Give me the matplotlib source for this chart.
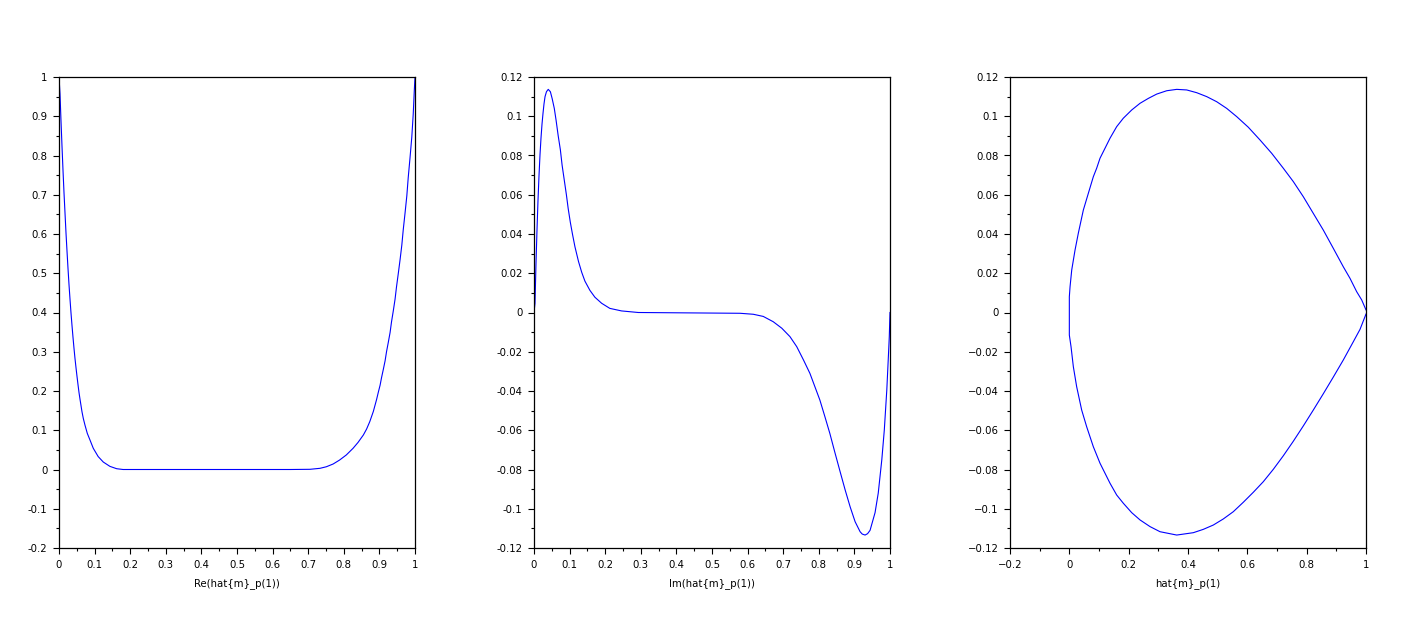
import matplotlib
matplotlib.use("Agg")
import matplotlib.pyplot as plt
from matplotlib.ticker import MultipleLocator

# ---------------------------------------------------------------------------
# Data
# ---------------------------------------------------------------------------

# panel 1: Re(hat{m}_p) against the parameter
t_re = [0.0, 0.0028, 0.0056, 0.0084, 0.0112, 0.0140, 0.0169, 0.0197, 0.0225,
        0.0253, 0.0281, 0.0309, 0.0337, 0.0365, 0.0393, 0.0421, 0.0449, 0.0478,
        0.0506, 0.0534, 0.0562, 0.0590, 0.0618, 0.0646, 0.0683, 0.073, 0.0795,
        0.0871, 0.0963, 0.110, 0.1244, 0.143, 0.162, 0.180,
        0.650, 0.705, 0.733, 0.751, 0.770, 0.788, 0.807, 0.826, 0.840, 0.855,
        0.864, 0.873, 0.883, 0.892, 0.897, 0.902, 0.906, 0.911, 0.916, 0.920,
        0.925, 0.930, 0.934, 0.939, 0.944, 0.948, 0.953, 0.958, 0.963, 0.967,
        0.972, 0.977, 0.981, 0.986, 0.991, 0.995, 0.998, 1.0]
re_vals = [1.0, 0.957, 0.889, 0.824, 0.763, 0.706, 0.653, 0.602, 0.556,
           0.512, 0.471, 0.434, 0.399, 0.367, 0.337, 0.309, 0.283, 0.259,
           0.237, 0.216, 0.196, 0.179, 0.163, 0.147, 0.130, 0.113, 0.092,
           0.075, 0.054, 0.033, 0.019, 0.008, 0.002, 0.0,
           0.0, 0.0005, 0.003, 0.007, 0.014, 0.024, 0.037, 0.054, 0.069, 0.088,
           0.103, 0.122, 0.148, 0.178, 0.197, 0.215, 0.234, 0.255, 0.277, 0.300,
           0.324, 0.349, 0.376, 0.404, 0.434, 0.465, 0.499, 0.534, 0.572, 0.611,
           0.653, 0.697, 0.744, 0.794, 0.847, 0.905, 0.965, 1.0]

# panel 2: Im(hat{m}_p) against the parameter
t_im = [0.0, 0.0028, 0.0056, 0.0084, 0.0112, 0.0140, 0.0169, 0.0197, 0.0225,
        0.0253, 0.0281, 0.031, 0.035, 0.040, 0.046, 0.051, 0.057, 0.062, 0.068,
        0.074, 0.079, 0.085, 0.091, 0.096, 0.102, 0.108, 0.115, 0.125, 0.134,
        0.143, 0.157, 0.171, 0.190, 0.213, 0.246, 0.293,
        0.579, 0.616, 0.644, 0.672, 0.696, 0.719, 0.738, 0.757, 0.775, 0.789,
        0.803, 0.817, 0.831, 0.845, 0.860, 0.874, 0.888, 0.902, 0.916, 0.922,
        0.930, 0.937, 0.944, 0.958, 0.967, 0.977, 0.984, 0.991, 0.995, 0.998, 1.0]
im_vals = [0.0, 0.0047, 0.025, 0.042, 0.057, 0.0695, 0.0805, 0.089, 0.096,
           0.1015, 0.1063, 0.110, 0.1125, 0.1137, 0.1125, 0.109, 0.104, 0.098, 0.090,
           0.083, 0.075, 0.0675, 0.060, 0.053, 0.046, 0.040, 0.0335, 0.026, 0.0205,
           0.0160, 0.0113, 0.0078, 0.0047, 0.0021, 0.0008, 0.0,
           -0.0004, -0.0009, -0.002, -0.0047, -0.008, -0.0123, -0.0174, -0.0242, -0.031, -0.0378,
           -0.0446, -0.053, -0.0616, -0.0712, -0.0812, -0.0904, -0.099, -0.1066, -0.1117, -0.1129,
           -0.1134, -0.1127, -0.111, -0.102, -0.092, -0.075, -0.0599, -0.0395, -0.0242, -0.0123, 0.0]

# panel 3: the curve in the complex plane (Re on x, Im on y)
curve_re = [1.0, 0.9855, 0.9686, 0.9461, 0.9235, 0.8898, 0.8561, 0.8224, 0.7887,
            0.755, 0.7213, 0.6822, 0.6428, 0.6033, 0.5642, 0.5305, 0.4968, 0.4631,
            0.4294, 0.3957, 0.362, 0.3283, 0.2946, 0.2663, 0.2383, 0.2103, 0.182,
            0.1596, 0.1371, 0.1203, 0.1034, 0.0921, 0.0809, 0.064, 0.0472, 0.0303,
            0.0192, 0.0081, 0.0024, 0.0, 0.0,
            0.0057, 0.0135, 0.0247, 0.0416, 0.0584, 0.0809, 0.1034, 0.1371, 0.1596,
            0.182, 0.2103, 0.2383, 0.272, 0.3057, 0.362, 0.4179, 0.4516, 0.4853,
            0.519, 0.5527, 0.5864, 0.6202, 0.6539, 0.6876, 0.7213, 0.755, 0.7887,
            0.8224, 0.8561, 0.8898, 0.9235, 0.9572, 0.9798, 1.0]
curve_im = [0.0013, 0.0064, 0.0106, 0.0174, 0.0233, 0.0327, 0.0420, 0.0505, 0.0590,
            0.0667, 0.0735, 0.0811, 0.0879, 0.0944, 0.0998, 0.1040, 0.1074, 0.1100,
            0.1120, 0.1134, 0.1137, 0.1130, 0.1113, 0.1091, 0.1066, 0.1032, 0.0990,
            0.0947, 0.0888, 0.0837, 0.0786, 0.0735, 0.0692, 0.0607, 0.0522, 0.0404,
            0.0318, 0.0217, 0.0131, 0.0080, -0.0115,
            -0.0174, -0.0276, -0.0378, -0.0497, -0.0582, -0.0684, -0.0768, -0.0870, -0.0930,
            -0.0972, -0.1020, -0.1057, -0.1091, -0.1117, -0.1134, -0.1122, -0.1105, -0.1083,
            -0.1052, -0.1015, -0.0967, -0.0916, -0.0862, -0.0799, -0.0730, -0.0656, -0.0578,
            -0.0497, -0.0414, -0.0329, -0.0242, -0.0149, -0.0086, -0.0008]

# tick labels
ticks_unit = [0, 0.1, 0.2, 0.3, 0.4, 0.5, 0.6, 0.7, 0.8, 0.9, 1]
labels_unit = ["0", "0.1", "0.2", "0.3", "0.4", "0.5", "0.6", "0.7", "0.8", "0.9", "1"]
ticks_re_y = [-0.2, -0.1, 0, 0.1, 0.2, 0.3, 0.4, 0.5, 0.6, 0.7, 0.8, 0.9, 1]
labels_re_y = ["-0.2", "-0.1", "0", "0.1", "0.2", "0.3", "0.4", "0.5", "0.6",
               "0.7", "0.8", "0.9", "1"]
ticks_im_y = [-0.12, -0.1, -0.08, -0.06, -0.04, -0.02, 0, 0.02, 0.04, 0.06,
              0.08, 0.1, 0.12]
labels_im_y = ["-0.12", "-0.1", "-0.08", "-0.06", "-0.04", "-0.02", "0", "0.02",
               "0.04", "0.06", "0.08", "0.1", "0.12"]
labels_im_y3 = ["\u22120.12", "\u22120.1", "\u22120.08", "\u22120.06", "\u22120.04",
                "\u22120.02", "0", "0.02", "0.04", "0.06", "0.08", "0.1", "0.12"]
ticks_curve_x = [-0.2, 0, 0.2, 0.4, 0.6, 0.8, 1]
labels_curve_x = ["\u22120.2", "0", "0.2", "0.4", "0.6", "0.8", "1"]

xlabels = ["Re(hat{m}_p(1))", "Im(hat{m}_p(1))", "hat{m}_p(1)"]

# ---------------------------------------------------------------------------
# Figure
# ---------------------------------------------------------------------------

W, H = 1426, 627
fig = plt.figure(figsize=(W / 100, H / 100), dpi=100)
plt.rcParams["font.family"] = "DejaVu Sans"

lefts = [59, 534, 1010]
ax_w, ax_bottom, ax_top = 356, 548, 77
axes = [fig.add_axes([l / W, (H - ax_bottom) / H, ax_w / W, (ax_bottom - ax_top) / H])
        for l in lefts]

BLUE = "#0000ff"
LW = 0.8

axes[0].plot(t_re, re_vals, color=BLUE, lw=LW)
axes[1].plot(t_im, im_vals, color=BLUE, lw=LW)
axes[2].plot(curve_re, curve_im, color=BLUE, lw=LW)

axes[0].set_xlim(0, 1)
axes[0].set_ylim(-0.2, 1)
axes[1].set_xlim(0, 1)
axes[1].set_ylim(-0.12, 0.12)
axes[2].set_xlim(-0.2, 1)
axes[2].set_ylim(-0.12, 0.12)

axes[0].set_xticks(ticks_unit, labels_unit)
axes[0].set_yticks(ticks_re_y, labels_re_y)
axes[1].set_xticks(ticks_unit, labels_unit)
axes[1].set_yticks(ticks_im_y, labels_im_y)
axes[2].set_xticks(ticks_curve_x, labels_curve_x)
axes[2].set_yticks(ticks_im_y, labels_im_y3)

axes[0].xaxis.set_minor_locator(MultipleLocator(0.05))
axes[0].yaxis.set_minor_locator(MultipleLocator(0.05))
axes[1].xaxis.set_minor_locator(MultipleLocator(0.05))
axes[1].yaxis.set_minor_locator(MultipleLocator(0.01))
axes[2].xaxis.set_minor_locator(MultipleLocator(0.1))
axes[2].yaxis.set_minor_locator(MultipleLocator(0.01))

for ax, label in zip(axes, xlabels):
    for sp in ax.spines.values():
        sp.set_linewidth(0.9)
        sp.set_color("black")
    ax.tick_params(which="major", direction="out", length=4.3, width=0.8,
                   labelsize=7.3, pad=4.0, top=False, right=False, colors="black")
    ax.tick_params(which="minor", direction="out", length=2.2, width=0.8,
                   top=False, right=False)
    ax.set_xlabel(label, fontsize=7.3, labelpad=6)

fig.savefig("out.png", dpi=100)
